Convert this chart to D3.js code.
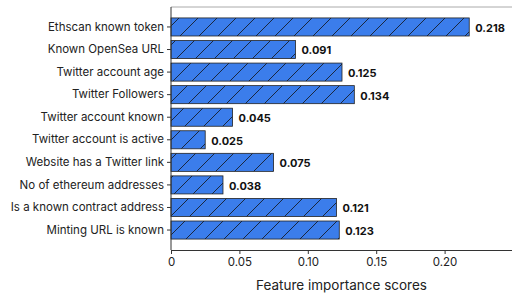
<!DOCTYPE html>
<html>
<head>
<meta charset="utf-8">
<script src="https://cdn.jsdelivr.net/npm/d3@7"></script>
<style>
  body { margin: 0; background: #fff; }
  svg { display: block; font-family: Inter, 'Noto Sans', sans-serif; }
</style>
</head>
<body>
<svg id="chart" width="512" height="295"></svg>
<script>
const features = [
  'Ethscan known token',
  'Known OpenSea URL',
  'Twitter account age',
  'Twitter Followers',
  'Twitter account known',
  'Twitter account is active',
  'Website has a Twitter link',
  'No of ethereum addresses',
  'Is a known contract address',
  'Minting URL is known',
]
const scores = [0.218, 0.091, 0.125, 0.134, 0.045, 0.025, 0.075, 0.038, 0.121, 0.123]
const xTicks = [0, 0.05, 0.1, 0.15, 0.2]
const xTickLabels = ['0', '0.05', '0.10', '0.15', '0.20']

const margin = { top: 7, right: -1, bottom: 45, left: 171 },
  W = 512,
  H = 295,
  w = W - margin.left - margin.right,
  h = H - margin.top - margin.bottom

const svg = d3.select('#chart')

// hatch pattern
svg
  .append('defs')
  .append('pattern')
  .attr('id', 'hatch')
  .attr('patternUnits', 'userSpaceOnUse')
  .attr('width', 19)
  .attr('height', 19)
  .call((p) => {
    p.append('rect').attr('width', 19).attr('height', 19).attr('fill', '#3b7deb')
    p.append('path')
      .attr('d', 'M-2,21 L21,-2 M-21,21 L2,-2 M17,40 L40,17')
      .attr('stroke', '#111')
      .attr('stroke-width', 0.8)
  })

const g = svg.append('g').attr('transform', `translate(${margin.left},${margin.top})`)

const x = d3.scaleLinear().domain([0, 0.25]).range([0, w])
const y = d3
  .scaleBand()
  .domain(features)
  .range([0, h])
  .paddingInner(0.2)
  .paddingOuter(0.485)

// bars
g.selectAll('.bar')
  .data(features)
  .enter()
  .append('rect')
  .attr('class', 'bar')
  .attr('x', 0)
  .attr('y', (d) => y(d))
  .attr('width', (d, i) => x(scores[i]))
  .attr('height', y.bandwidth())
  .attr('fill', 'url(#hatch)')
  .attr('stroke', '#222')
  .attr('stroke-width', 0.8)

// value labels
g.selectAll('.val')
  .data(features)
  .enter()
  .append('text')
  .attr('x', (d, i) => x(scores[i]) + 6)
  .attr('y', (d) => y(d) + y.bandwidth() / 2 + 1)
  .attr('dy', '0.35em')
  .attr('font-size', 11)
  .attr('font-weight', 700)
  .attr('fill', '#111')
  .text((d, i) => scores[i].toFixed(3))

// spines
g.append('line').attr('x1', 0).attr('x2', w).attr('y1', 0).attr('y2', 0).attr('stroke', '#aaa')
g.append('line').attr('x1', 0).attr('x2', 0).attr('y1', 0).attr('y2', h).attr('stroke', '#333')

// y axis
const yAxis = g.append('g').call(d3.axisLeft(y).tickSize(4).tickSizeOuter(0))
yAxis.select('.domain').remove()
yAxis.selectAll('.tick line').attr('stroke', '#333')
yAxis
  .selectAll('.tick text')
  .attr('x', -7)
  .attr('font-size', 11.5)
  .attr('font-family', 'Inter, sans-serif')
  .attr('fill', '#222')

// x axis
const xAxis = g
  .append('g')
  .attr('transform', `translate(0,${h})`)
  .call(
    d3
      .axisBottom(x)
      .tickValues(xTicks)
      .tickFormat((d, i) => xTickLabels[i])
      .tickSize(4)
      .tickSizeOuter(0)
  )
xAxis.select('.domain').attr('stroke', '#333')
xAxis.selectAll('.tick line').attr('stroke', '#333')
xAxis
  .selectAll('.tick text')
  .attr('y', 8)
  .attr('font-size', 11.5)
  .attr('font-family', 'Inter, sans-serif')
  .attr('fill', '#222')

svg
  .append('text')
  .attr('x', margin.left + (W - margin.left) / 2)
  .attr('y', 290)
  .attr('text-anchor', 'middle')
  .attr('font-size', 13.5)
  .attr('fill', '#222')
  .text('Feature importance scores')
</script>
</body>
</html>
